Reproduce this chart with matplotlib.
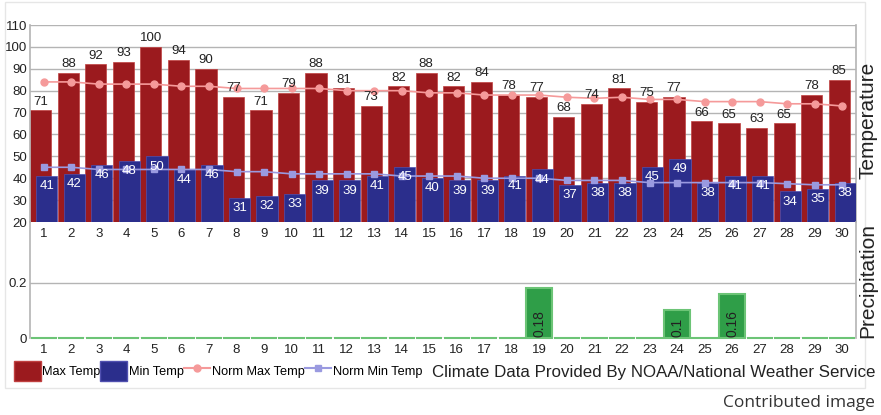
import matplotlib.pyplot as plt
from matplotlib.patches import Patch, Rectangle
from matplotlib.lines import Line2D

days = list(range(1, 31))
max_temp = [71, 88, 92, 93, 100, 94, 90, 77, 71, 79, 88, 81, 73, 82, 88,
            82, 84, 78, 77, 68, 74, 81, 75, 77, 66, 65, 63, 65, 78, 85]
min_temp = [41, 42, 46, 48, 50, 44, 46, 31, 32, 33, 39, 39, 41, 45, 40,
            39, 39, 41, 44, 37, 38, 38, 45, 49, 38, 41, 41, 34, 35, 38]
norm_max = [84, 84, 83, 83, 83, 82, 82, 81, 81, 81, 81, 80, 80, 80, 79,
            79, 78, 78, 78, 77, 76.5, 77, 76, 76, 75, 75, 75, 74, 74, 73]
norm_min = [45, 45, 44, 44, 44, 44, 44, 43, 43, 42, 42, 42, 42, 41, 41,
            41, 40, 40, 40, 39, 39, 39, 38, 38, 38, 38, 38, 37.5, 37, 37]
precip = [0, 0, 0, 0, 0, 0, 0, 0, 0, 0, 0, 0, 0, 0, 0,
          0, 0, 0, 0.18, 0, 0, 0, 0, 0.1, 0, 0.16, 0, 0, 0, 0]
precip_labels = {19: "0.18", 24: "0.1", 26: "0.16"}

RED = "#9b1a1e"
BLUE = "#2b2e8c"
PINK = "#f59a9a"
LAV = "#9a9ae0"
GREEN = "#2f9e48"
GRID = "#b4b4b4"
TXT = "#222222"

plt.rcParams['font.family'] = ['Liberation Sans', 'DejaVu Sans']

fig = plt.figure(figsize=(8.81, 4.15), dpi=100)

# faint frame around the original chart image
fig.patches.append(Rectangle((5 / 881, 1 - 388 / 415), 860 / 881, 386 / 415,
                             transform=fig.transFigure, fill=False,
                             edgecolor="#e6e6e6", linewidth=1))

ax = fig.add_axes([30 / 881, 1 - 222 / 415, 826 / 881, 197 / 415])
ax2 = fig.add_axes([30 / 881, 1 - 338 / 415, 826 / 881, 116 / 415])
ax2.patch.set_alpha(0)

# temperature panel
off = 0.11
w = 0.77
ax.bar([d - off for d in days], [m - 20 for m in max_temp], bottom=20,
       width=w, color=RED, edgecolor="#c04040", linewidth=0.5, zorder=2)
ax.bar([d + off for d in days], [m - 20 for m in min_temp], bottom=20,
       width=w, color=BLUE, edgecolor="#5050b0", linewidth=0.5, zorder=3)
ax.plot(days, norm_max, color=PINK, marker="o", markersize=5, linewidth=1.2, zorder=4)
ax.plot(days, norm_min, color=LAV, marker="s", markersize=5, linewidth=1.2, zorder=4)

for d, v in zip(days, max_temp):
    ax.annotate(str(v), (d - off, v), xytext=(0, 2), textcoords="offset points",
                ha="center", va="bottom", fontsize=9.5, color=TXT, zorder=5)
for d, v in zip(days, min_temp):
    ax.annotate(str(v), (d + off, v), xytext=(0, -3), textcoords="offset points",
                ha="center", va="top", fontsize=9.5, color="white", zorder=5)

ax.set_xlim(0.5, 30.5)
ax.set_ylim(20, 110)
ax.set_yticks(range(20, 111, 10))
ax.set_xticks(days)
ax.grid(axis="y", color=GRID, linewidth=1, zorder=0)
ax.set_axisbelow(True)
for s in ["top", "bottom"]:
    ax.spines[s].set_visible(False)
for s in ["left", "right"]:
    ax.spines[s].set_color(GRID)
    ax.spines[s].set_linewidth(1.2)
ax.tick_params(length=0, labelsize=9.5, colors=TXT, pad=2)
ax.tick_params(axis="x", pad=4)

# precipitation panel
ax2.bar(days, precip, width=0.95, color=GREEN, edgecolor="#6cc476",
        linewidth=1.5, zorder=2, clip_on=False)
for d, lab in precip_labels.items():
    ax2.text(d, 0.004, lab, rotation=90, ha="center", va="bottom",
             fontsize=10, color=TXT, zorder=5)
ax2.set_xlim(0.5, 30.5)
ax2.set_ylim(0, 0.42)
ax2.set_yticks([0, 0.2])
ax2.set_yticklabels(["0", "0.2"])
ax2.set_xticks(days)
ax2.grid(axis="y", color=GRID, linewidth=1, zorder=0)
ax2.set_axisbelow(True)
for s in ["top", "bottom"]:
    ax2.spines[s].set_visible(False)
for s in ["left", "right"]:
    ax2.spines[s].set_color(GRID)
    ax2.spines[s].set_linewidth(1.2)
ax2.tick_params(length=0, labelsize=9.5, colors=TXT, pad=2)
ax2.tick_params(axis="x", pad=4)

fig.text(868 / 881, 1 - 120 / 415, "Temperature", rotation=90, ha="center",
         va="center", fontsize=15, color=TXT)
fig.text(868 / 881, 1 - 280 / 415, "Precipitation", rotation=90, ha="center",
         va="center", fontsize=15, color=TXT)

handles = [
    Patch(facecolor=RED, edgecolor="#c04040"),
    Patch(facecolor=BLUE, edgecolor="#5050b0"),
    Line2D([], [], color=PINK, marker="o", markersize=5),
    Line2D([], [], color=LAV, marker="s", markersize=5),
]
names = ["Max Temp", "Min Temp", "Norm Max Temp", "Norm Min Temp"]
fig.legend(handles, names, loc="center left",
           bbox_to_anchor=(14 / 881, 1 - 371 / 415), ncol=4, frameon=False,
           fontsize=9.2, handlelength=2.1, handleheight=2.1, handletextpad=0.1,
           columnspacing=0.0, borderpad=0, borderaxespad=0)

fig.text(875 / 881, 1 - 372 / 415, "Climate Data Provided By NOAA/National Weather Service",
         ha="right", va="center", fontsize=12.2, color=TXT)
fig.text(875 / 881, 1 - 403 / 415, "Contributed image", ha="right", va="center",
         fontsize=12.5, color="#333333", family=["Open Sans", "DejaVu Sans"])

fig.savefig("out.png", dpi=100)
